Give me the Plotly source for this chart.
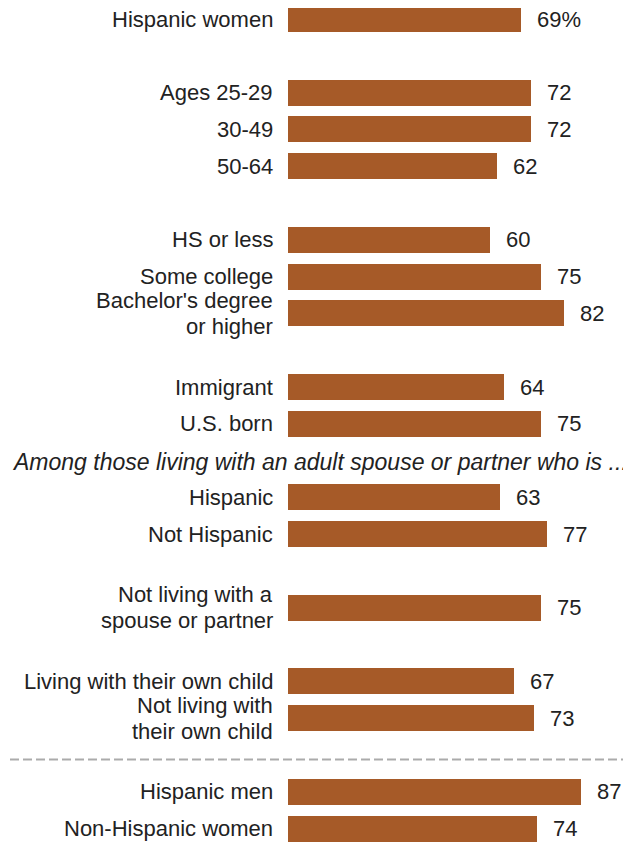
import plotly.graph_objects as go

categories = [
    "Hispanic women",
    "Ages 25-29", "30-49", "50-64",
    "HS or less", "Some college", "Bachelor's degree<br>or higher",
    "Immigrant", "U.S. born",
    "Hispanic", "Not Hispanic",
    "Not living with a<br>spouse or partner",
    "Living with their own child", "Not living with<br>their own child",
    "Hispanic men", "Non-Hispanic women",
]
values = [69, 72, 72, 62, 60, 75, 82, 64, 75, 63, 77, 75, 67, 73, 87, 74]
value_labels = ["69%"] + [str(v) for v in values[1:]]
group_sizes = [1, 3, 3, 2, 2, 1, 2, 2]
header_text = "Among those living with an adult spouse or partner who is ..."
header_group = 4      # header sits above this group
separator_group = 7   # dashed line sits above this group

BAR_COLOR = "#A65A28"
TEXT_COLOR = "#222222"
FONT = "Liberation Sans, Arial, sans-serif"
LINE_H = 26  # px between lines of a wrapped label

# compute row positions (one empty row between groups)
ypos = []
group_start = []
row = 0
for gi, n in enumerate(group_sizes):
    if gi > 0:
        row += 1
    group_start.append(row)
    for k in range(n):
        ypos.append(row)
        row += 1

fig = go.Figure()
fig.add_trace(go.Bar(
    x=values, y=ypos, orientation="h",
    marker=dict(color=BAR_COLOR, line=dict(width=0)),
    width=26 / 36.8, hoverinfo="skip",
))

# category labels (wrapped labels drawn line by line for tighter leading)
for lab, y in zip(categories, ypos):
    lines = lab.split("<br>")
    n = len(lines)
    for i, ln in enumerate(lines):
        shift = ((n - 1) / 2 - i) * LINE_H
        fig.add_annotation(x=0, y=y, text=ln, xref="x", yref="y",
                           xanchor="right", yanchor="middle", xshift=-13, yshift=shift,
                           showarrow=False, align="right",
                           font=dict(family=FONT, size=22, color=TEXT_COLOR))
# value labels
for v, t, y in zip(values, value_labels, ypos):
    fig.add_annotation(x=v, y=y, text=t, xref="x", yref="y",
                       xanchor="left", yanchor="middle", xshift=14,
                       showarrow=False,
                       font=dict(family=FONT, size=22, color=TEXT_COLOR))

W, H = 623, 834

# header
fig.add_annotation(x=2 / W, y=group_start[header_group] - 0.96, text="<i>" + header_text + "</i>",
                   xref="paper", yref="y", xanchor="left", yanchor="middle",
                   showarrow=False,
                   font=dict(family=FONT, size=23, color=TEXT_COLOR))

# dashed separator
sep_y = group_start[separator_group] - 0.88
fig.add_shape(type="line", xref="paper", yref="y", x0=2 / W, x1=1.0, y0=sep_y, y1=sep_y,
              line=dict(color="#ababab", width=2, dash="9px,4px"))

px_per_unit = 3.37
bar_left = 280
row_px = 36.8
first_center = 11
fig.update_layout(
    width=W, height=H,
    margin=dict(l=0, r=0, t=0, b=0),
    paper_bgcolor="white", plot_bgcolor="white",
    showlegend=False,
    xaxis=dict(range=[-bar_left / px_per_unit, (W - bar_left) / px_per_unit],
               visible=False, fixedrange=True),
    yaxis=dict(range=[(H - first_center) / row_px, -first_center / row_px],
               visible=False, fixedrange=True),
    bargap=0,
)
fig.write_html("out.html")
